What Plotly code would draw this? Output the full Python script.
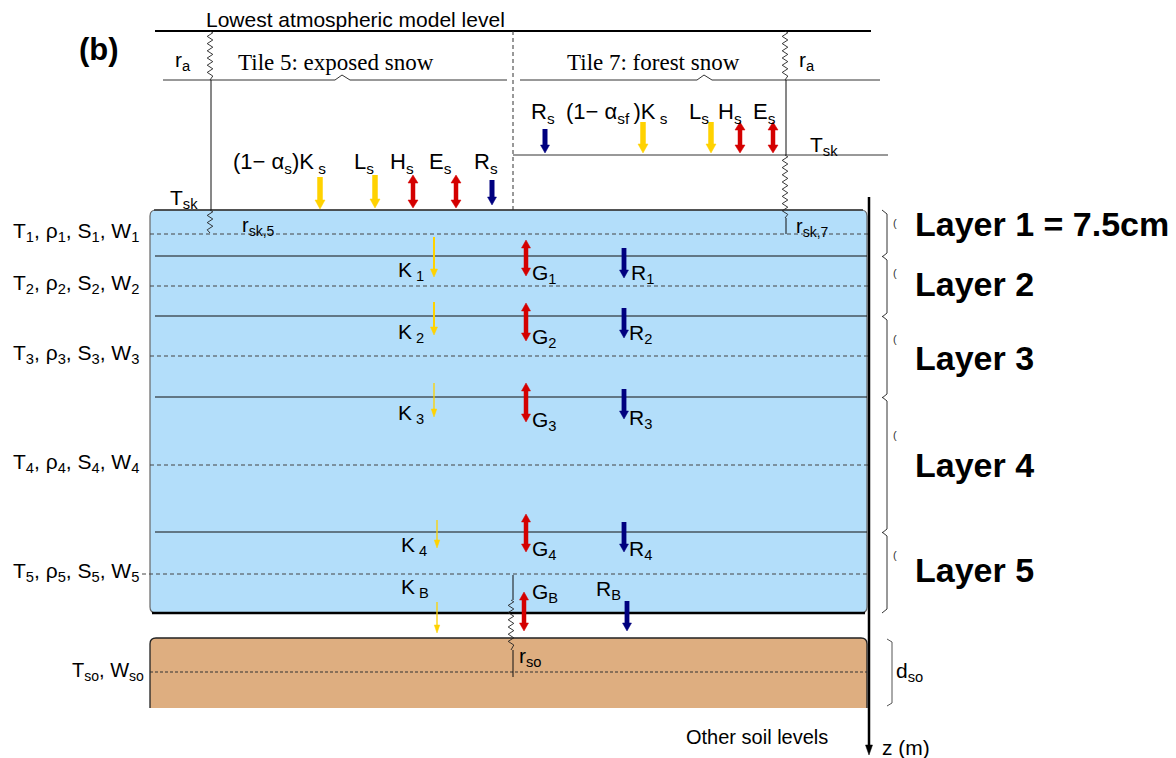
import plotly.graph_objects as go

# ---------------------------------------------------------------
# Snow-pack / surface-tile schematic (diagram coordinates, depth grows downward)
# ---------------------------------------------------------------

# snow layers
layer_names = ["Layer 1 = 7.5cm", "Layer 2", "Layer 3", "Layer 4", "Layer 5"]
layer_edges = [210, 256, 316, 397, 532, 613]
node_depths = [234, 286, 356, 465, 574]
node_labels = [
    "T<sub>1</sub>, ρ<sub>1</sub>, S<sub>1</sub>, W<sub>1</sub>",
    "T<sub>2</sub>, ρ<sub>2</sub>, S<sub>2</sub>, W<sub>2</sub>",
    "T<sub>3</sub>, ρ<sub>3</sub>, S<sub>3</sub>, W<sub>3</sub>",
    "T<sub>4</sub>, ρ<sub>4</sub>, S<sub>4</sub>, W<sub>4</sub>",
    "T<sub>5</sub>, ρ<sub>5</sub>, S<sub>5</sub>, W<sub>5</sub>",
]

# soil level below the snow
soil_top, soil_node, soil_bottom = 638, 672, 708

# fluxes between snow nodes: shortwave K, conduction G, rain/percolation R
k_labels = ["K<sub> 1</sub>", "K<sub> 2</sub>", "K<sub> 3</sub>", "K<sub> 4</sub>", "K<sub> B</sub>"]
g_labels = ["G<sub>1</sub>", "G<sub>2</sub>", "G<sub>3</sub>", "G<sub>4</sub>", "G<sub>B</sub>"]
r_labels = ["R<sub>1</sub>", "R<sub>2</sub>", "R<sub>3</sub>", "R<sub>4</sub>", "R<sub>B</sub>"]
k_spans = [(237, 277), (302, 335), (383, 417), (520, 548), (602, 633)]
g_spans = [(240, 276), (303, 341), (383, 422), (514, 552), (592, 631)]
r_spans = [(248, 278), (308, 338), (389, 419), (522, 552), (601, 631)]
k_x = [434, 434, 434, 437, 437]
g_x = [526, 526, 526, 526, 524]
r_x = [624, 624, 624, 624, 627]
k_lab = [(396, 268), (396, 330), (396, 411), (399, 543), (399, 585)]
g_lab = [(530, 271), (530, 335), (530, 418), (530, 547), (530, 590)]
r_lab = [(629, 271), (627, 331), (627, 416), (627, 547), (594, 587)]

# surface fluxes for the two snow tiles
tile5_labels = ["(1− α<sub>s</sub>)K<sub> s</sub>", "L<sub>s</sub>", "H<sub>s</sub>", "E<sub>s</sub>", "R<sub>s</sub>"]
tile5_label_x = [231, 352, 388, 427, 472]
tile5_arrow_x = [320, 375, 413, 456, 492]
tile5_kind = ["sw", "sw", "turb", "turb", "rain"]
tile5_spans = [(177, 209), (175, 208), (175, 208), (175, 208), (180, 205)]

tile7_labels = ["R<sub>s</sub>", "(1− α<sub>sf </sub>)K<sub> s</sub>", "L<sub>s</sub>", "H<sub>s</sub>", "E<sub>s</sub>"]
tile7_label_x = [529, 564, 687, 716, 751]
tile7_arrow_x = [545, 643, 711, 740, 773]
tile7_kind = ["rain", "sw", "sw", "turb", "turb"]
tile7_spans = [(129, 153), (122, 153), (122, 153), (122, 153), (122, 153)]

# ---------------------------------------------------------------
SANS = "Liberation Sans, Arial, sans-serif"
SERIF = "Liberation Serif, Times New Roman, serif"
YELLOW = "#ffd200"
RED = "#d40000"
NAVY = "#00007f"
SNOW = "#b3defa"
SOIL = "#deae80"

shapes = []
annotations = []


def line(x0, y0, x1, y1, color="black", width=1, dash=None):
    ln = dict(color=color, width=width)
    if dash:
        ln["dash"] = dash
    shapes.append(dict(type="line", xref="x", yref="y", x0=x0, y0=y0, x1=x1, y1=y1, line=ln))


def path(d, color="black", width=1, fill=None):
    s = dict(type="path", xref="x", yref="y", path=d, line=dict(color=color, width=width))
    if fill:
        s["fillcolor"] = fill
    shapes.append(s)


def tri(x, y_tip, hw, hl, color, up=False):
    yb = y_tip + hl if up else y_tip - hl
    path(f"M {x - hw / 2},{yb} L {x + hw / 2},{yb} L {x},{y_tip} Z", color=color, width=0.5, fill=color)


def arrow(x, y0, y1, color, shaft, hw, hl, double=False):
    top = y0 + hl if double else y0
    line(x, top, x, y1 - hl, color=color, width=shaft)
    tri(x, y1, hw, hl, color)
    if double:
        tri(x, y0, hw, hl, color, up=True)


def zigzag(x, y0, y1, amp=2.8, step=3.6):
    pts = [f"M {x},{y0}"]
    y = y0 + step / 2
    side = 1
    while y < y1 - step / 2:
        pts.append(f"L {x + side * amp},{y}")
        side = -side
        y += step
    pts.append(f"L {x},{y1}")
    path(" ".join(pts), color="#222", width=0.9)


def text(x, y, s, size=20, anchor="left", family=SANS, color="black", yanchor="middle"):
    annotations.append(dict(x=x, y=y, xref="x", yref="y", text=s, showarrow=False,
                            xanchor=anchor, yanchor=yanchor,
                            font=dict(family=family, size=size, color=color)))


# ---- snow pack box ----
x0b, x1b = 150, 867
top, bot = layer_edges[0], layer_edges[-1]
r = 6
path(f"M {x0b},{top + r} Q {x0b},{top} {x0b + r},{top} L {x1b - r},{top} Q {x1b},{top} {x1b},{top + r} "
     f"L {x1b},{bot - r} Q {x1b},{bot} {x1b - r},{bot} L {x0b + r},{bot} Q {x0b},{bot} {x0b},{bot - r} Z",
     color="#666", width=1.2, fill=SNOW)
line(x0b + 4, top, x1b - 4, top, color="#333", width=1.5)
line(x0b + 2, bot, x1b - 2, bot, color="black", width=2.5)
for e in layer_edges[1:-1]:
    line(155, e, x1b, e, color="#111", width=1)
for i, d in enumerate(node_depths):
    line(142 if i == 4 else x0b, d, x1b + 2, d, color="#444", width=1, dash="4px,3px")

# ---- soil box ----
path(f"M {x0b},{soil_bottom} L {x0b},{soil_top + r} Q {x0b},{soil_top} {x0b + r},{soil_top} "
     f"L {x1b - r},{soil_top} Q {x1b},{soil_top} {x1b},{soil_top + r} L {x1b},{soil_bottom}",
     color="#222", width=1.3, fill=SOIL)
line(x0b, soil_node, x1b, soil_node, color="#333", width=1, dash="3px,2px")

# ---- atmosphere / tiles ----
line(155, 31, 871, 31, color="black", width=2.2)
line(513, 31, 513, 210, color="#333", width=1, dash="4px,3px")
path("M 163,80 L 335,80 L 342,75 L 350,80 L 507,80", color="#333", width=1)
path("M 520,80 L 697,80 L 704,75 L 712,80 L 880,80", color="#333", width=1)
line(513, 155, 888, 155, color="#333", width=1)

# resistances
zigzag(210, 31, 80)
line(211, 80, 211, 210, color="#111", width=1)
zigzag(210, 210, 233)
zigzag(785, 31, 80)
line(786, 80, 786, 155, color="#111", width=1)
zigzag(785, 155, 218)
line(786, 218, 786, 234, color="#111", width=1)
line(513, 575, 513, 600, color="#111", width=1)
zigzag(511, 600, 650)
line(513, 650, 513, 677, color="#111", width=1)

# ---- surface flux arrows ----
def surface_arrow(x, span, kind):
    y0, y1 = span
    if kind == "sw":
        arrow(x, y0, y1, YELLOW, 5.5, 10, 9)
    elif kind == "turb":
        arrow(x, y0, y1, RED, 4.5, 10, 8, double=True)
    else:
        arrow(x, y0, y1, NAVY, 5, 9, 8)


for x, sp, k in zip(tile5_arrow_x, tile5_spans, tile5_kind):
    surface_arrow(x, sp, k)
for x, sp, k in zip(tile7_arrow_x, tile7_spans, tile7_kind):
    surface_arrow(x, sp, k)
for s, x in zip(tile5_labels, tile5_label_x):
    text(x, 163, s, size=22)
for s, x in zip(tile7_labels, tile7_label_x):
    text(x, 113, s, size=22)

# ---- internal flux arrows ----
for i in range(5):
    thin = 2 if i < 2 else 1.3
    arrow(k_x[i], k_spans[i][0], k_spans[i][1], YELLOW, thin, 7 if i < 2 else 5.5, 8)
    arrow(g_x[i], g_spans[i][0], g_spans[i][1], RED, 4.5, 9, 8, double=True)
    arrow(r_x[i], r_spans[i][0], r_spans[i][1], NAVY, 4.8, 9, 8)
    text(k_lab[i][0], k_lab[i][1] + 3, k_labels[i], size=21)
    text(g_lab[i][0], g_lab[i][1] + 3, g_labels[i], size=21)
    text(r_lab[i][0], r_lab[i][1] + 3, r_labels[i], size=21)

# ---- depth axis and layer braces ----
line(869, 197, 869, 747, color="black", width=2.5)
tri(869, 755, 7, 10, "black")
text(880, 747, "z (m)", size=21)

for i in range(5):
    a, b = layer_edges[i], layer_edges[i + 1]
    b2 = b + 1 if i < 4 else b
    path(f"M 882,{a} L 887,{a + 4} L 887,{b2 - 4} L 882,{b2}", color="#333", width=1)
    text(891, a + (b - a) * 0.28, "(", size=11, color="#333")
layer_label_y = [223, 283, 357, 464, 569]
for s, y in zip(layer_names, layer_label_y):
    text(913, y + 1, f"<b>{s}</b>", size=34)

path("M 887,639 L 892,642 L 892,703 L 887,706", color="#555", width=1)
text(894, 672, "d<sub>so</sub>", size=21)

# ---- remaining labels ----
text(355, 19, "Lowest atmospheric model level", size=21, anchor="center")
text(77, 49, "<b>(b)</b>", size=31)
text(336, 62, "Tile 5: exposed snow", size=23, anchor="center", family=SERIF)
text(653, 62, "Tile 7: forest snow", size=23, anchor="center", family=SERIF)
text(173, 61, "r<sub>a</sub>", size=21)
text(797, 61, "r<sub>a</sub>", size=21)
text(168, 199, "T<sub>sk</sub>", size=21)
text(808, 146, "T<sub>sk</sub>", size=21)
text(240, 226, "r<sub>sk,5</sub>", size=20)
text(794, 227, "r<sub>sk,7</sub>", size=20)
text(517, 657, "r<sub>so</sub>", size=21)
for s, d in zip(node_labels, node_depths):
    text(141, d - 2, s, size=21, anchor="right")
text(146, 671, "T<sub>so</sub>, W<sub>so</sub>", size=20, anchor="right")
text(684, 737, "Other soil levels", size=20)

fig = go.Figure(go.Scatter(x=[], y=[], showlegend=False))
fig.update_layout(
    width=1176, height=758, autosize=False,
    margin=dict(l=0, r=0, t=0, b=0, pad=0),
    paper_bgcolor="white", plot_bgcolor="white",
    xaxis=dict(range=[0, 1176], visible=False, fixedrange=True),
    yaxis=dict(range=[758, 0], visible=False, fixedrange=True),
    shapes=shapes, annotations=annotations, showlegend=False,
)
fig.write_html("out.html")
